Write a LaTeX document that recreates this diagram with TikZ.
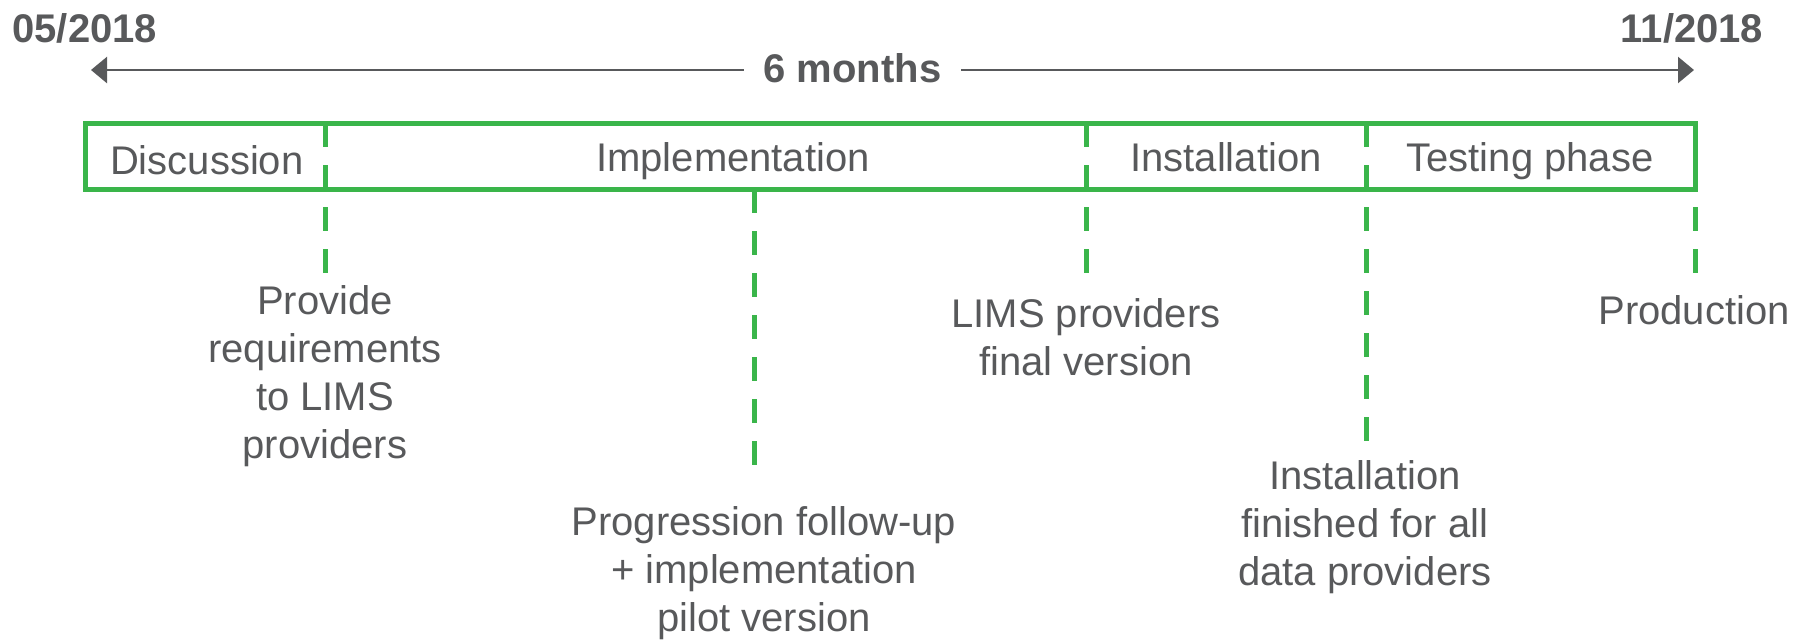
\documentclass[tikz,border=0pt]{standalone}
\usepackage{fontspec}
\setmainfont{Liberation Sans}
\usetikzlibrary{arrows.meta}
\definecolor{tgreen}{HTML}{3AB54A}
\definecolor{tgray}{HTML}{58595B}
\begin{document}
\begin{tikzpicture}[x=0.5pt,y=-0.5pt,
  lbl/.style={font=\fontsize{20pt}{24pt}\selectfont, text=tgray, inner sep=0pt, align=center, anchor=base},
  blbl/.style={lbl, font=\fontsize{20pt}{24pt}\selectfont\bfseries},
  frame/.style={draw=tgreen, line width=2.5pt, inner sep=0pt},
  dashline/.style={draw=tgreen, line width=2.5pt, dash pattern=on 12pt off 9pt},
  span/.style={draw=tgray, line width=1.25pt, {Triangle[length=8pt,width=13pt]}-{Triangle[length=8pt,width=13pt]}}]
\useasboundingbox (0,0) rectangle (1810,639);

% dates and duration arrow
\node[blbl] (start) at (84.7,42) {05/2018};
\node[blbl] (end) at (1692,42) {11/2018};
\coordinate (aL) at (91,70);
\coordinate (aR) at (1694,70);
\draw[span] (aL) -- (aR);
\node[blbl, fill=white, inner xsep=10pt, inner ysep=2pt] (months) at (852.5,82) {6 months};

% dashed milestone lines
\coordinate (d1t) at (325,123);  \coordinate (d1b) at (325,273);
\coordinate (d2t) at (754,189);  \coordinate (d2b) at (754,465);
\coordinate (d3t) at (1086,123); \coordinate (d3b) at (1086,273);
\coordinate (d4t) at (1366,123); \coordinate (d4b) at (1366,441);
\coordinate (d5t) at (1695,123); \coordinate (d5b) at (1695,273);
\draw[dashline] (d1t) -- (d1b);
\draw[dashline] (d2t) -- (d2b);
\draw[dashline] (d3t) -- (d3b);
\draw[dashline] (d4t) -- (d4b);
\draw[dashline] (d5t) -- (d5b);

% phase box
\node[frame, minimum width=805pt, minimum height=33pt] (box) at (890,156) {};
\node[lbl] (discussion) at (206.7,174) {Discussion};
\node[lbl] (implementation) at (733,171) {Implementation};
\node[lbl] (installation) at (1226,171) {Installation};
\node[lbl] (testing) at (1530,171) {Testing phase};

% milestone labels (anchor base = baseline of last line)
\node[lbl] (m1) at (325,458.5) {Provide\\requirements\\to LIMS\\providers};
\node[lbl] (m2) at (764,631.8) {Progression follow-up\\+ implementation\\pilot version};
\node[lbl] (m3) at (1086,375) {LIMS providers\\final version};
\node[lbl] (m4) at (1365,585.5) {Installation\\finished for all\\data providers};
\node[lbl] (m5) at (1694,324) {Production};
\end{tikzpicture}
\end{document}
